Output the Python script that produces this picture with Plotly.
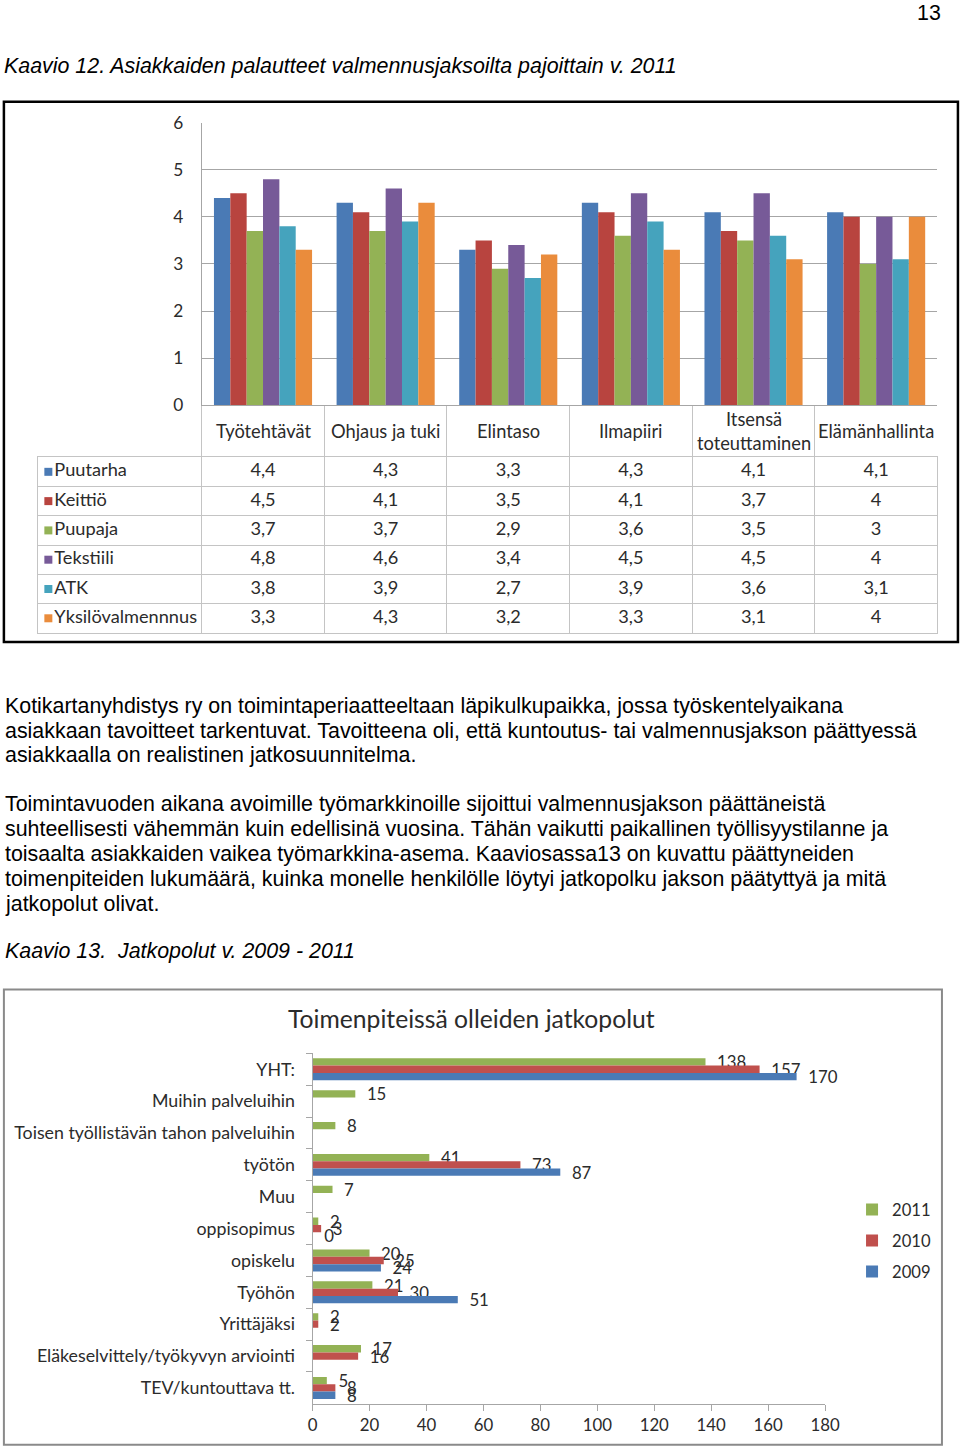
import plotly.graph_objects as go

# the shot of the page comes out a little scaled and shifted, so page
# positions are mapped into figure pixels here
SX, OX = 0.9805, 4.1
SY, OY = 0.987, 10.2
W, H = 976, 1461


def fx(px):
    return ((px - OX) / SX) / W


def fy(py):
    return 1 - ((py - OY) / SY) / H


# --- Kaavio 12 data ---
teemat = ["Työtehtävät", "Ohjaus ja tuki", "Elintaso", "Ilmapiiri",
          "Itsensä toteuttaminen", "Elämänhallinta"]
teema_otsikot = ["Työtehtävät", "Ohjaus ja tuki", "Elintaso", "Ilmapiiri",
                 "Itsensä<br>toteuttaminen", "Elämänhallinta"]
pajat = ["Puutarha", "Keittiö", "Puupaja", "Tekstiili", "ATK", "Yksilövalmennnus"]
puutarha = [4.4, 4.3, 3.3, 4.3, 4.1, 4.1]
keittio = [4.5, 4.1, 3.5, 4.1, 3.7, 4]
puupaja = [3.7, 3.7, 2.9, 3.6, 3.5, 3]
tekstiili = [4.8, 4.6, 3.4, 4.5, 4.5, 4]
atk = [3.8, 3.9, 2.7, 3.9, 3.6, 3.1]
yksilo = [3.3, 4.3, 3.2, 3.3, 3.1, 4]
paja_colors = ["#4a7ab5", "#b8443f", "#93b255", "#775a98", "#45a3bd", "#ea8c3c"]

# --- Kaavio 13 data ---
jatkopolut = ["YHT:", "Muihin palveluihin", "Toisen työllistävän tahon palveluihin",
              "työtön", "Muu", "oppisopimus", "opiskelu", "Työhön", "Yrittäjäksi",
              "Eläkeselvittely/työkyvyn arviointi", "TEV/kuntouttava tt."]
v2011 = [138, 15, 8, 41, 7, 2, 20, 21, 2, 17, 5]
v2010 = [157, None, None, 73, None, 3, 25, 30, 2, 16, 8]
v2009 = [170, None, None, 87, None, 0, 24, 51, None, None, 8]
vuodet = ["2011", "2010", "2009"]
vuosi_colors = ["#93b255", "#c0504d", "#4a7ab5"]

CHART_FONT = "Lato, 'Open Sans', sans-serif"
TEXT_FONT = "'Liberation Sans', Arial, sans-serif"
GRID = "#a6a6a6"
TBL = "#c4c4c4"
INK = "#2b2b2b"

fig = go.Figure()

# column chart
series1 = [puutarha, keittio, puupaja, tekstiili, atk, yksilo]
for name, vals, col in zip(pajat, series1, paja_colors):
    fig.add_trace(go.Bar(x=teemat, y=vals, name=name, marker_color=col,
                         marker_line_width=0, showlegend=False,
                         xaxis="x", yaxis="y"))


# data table under the column chart, drawn on two category subplots
def fmt(v):
    return f"{v:g}".replace(".", ",")


tx, ty, tt = [], [], []
for p, s in zip(pajat, series1):
    for t, v in zip(teemat, s):
        tx.append(t)
        ty.append(p)
        tt.append(fmt(v))

fig.add_trace(go.Scatter(x=tx, y=ty, text=tt, mode="text", showlegend=False,
                         textfont=dict(family=CHART_FONT, size=18.2, color=INK),
                         hoverinfo="skip", xaxis="x3", yaxis="y3"))

# legend keys and row names in the first column
fig.add_trace(go.Scatter(x=[0] * len(pajat), y=pajat, text=pajat,
                         mode="markers+text", textposition="middle right",
                         marker=dict(symbol="square", size=8, color=paja_colors),
                         textfont=dict(family=CHART_FONT, size=18.2, color=INK),
                         showlegend=False, hoverinfo="skip",
                         cliponaxis=False, xaxis="x4", yaxis="y4"))

# horizontal bar chart
offsets = [-0.345, -0.115, 0.115]
for name, vals, col, off in zip(vuodet, [v2011, v2010, v2009], vuosi_colors, offsets):
    fig.add_trace(go.Bar(
        y=jatkopolut, x=vals, name=name, orientation="h", marker_color=col,
        marker_line_width=0, width=0.23, offset=off,
        texttemplate="\u00a0\u00a0%{x}", textposition="outside",
        constraintext="none", cliponaxis=False,
        textfont=dict(family=CHART_FONT, size=16.8, color=INK),
        legendgroup=name, xaxis="x2", yaxis="y2"))

hdr_len = (457 - 405) / SY
n_cols = len(teemat)
n_rows = len(pajat)
tbl_rows = dict(domain=[fy(633), fy(457)], type="category",
                range=[n_rows - 0.5, -0.5])

fig.update_layout(
    width=W, height=H, margin=dict(l=0, r=0, t=0, b=0),
    paper_bgcolor="white", plot_bgcolor="rgba(0,0,0,0)",
    barmode="group", bargap=0.2, bargroupgap=0,
    font=dict(family=CHART_FONT, color=INK),
    xaxis=dict(domain=[fx(201), fx(937.5)], anchor="y", type="category",
               range=[-0.5, n_cols - 0.5],
               showticklabels=False, showgrid=False, showline=True,
               linecolor=GRID, linewidth=1, ticks="outside",
               tickson="boundaries", ticklen=hdr_len, tickcolor=TBL, tickwidth=1),
    yaxis=dict(domain=[fy(405), fy(122)], anchor="x", range=[0, 6], dtick=1,
               showgrid=True, gridcolor=GRID, gridwidth=1, zeroline=False,
               showline=True, linecolor=GRID, ticks="",
               ticklabelstandoff=14,
               tickfont=dict(family=CHART_FONT, size=17.3, color=INK)),
    xaxis3=dict(domain=[fx(201), fx(937.5)], anchor="y3", type="category",
                categoryorder="array", categoryarray=teemat,
                range=[-0.5, n_cols - 0.5],
                showticklabels=False, ticks="", tickson="boundaries",
                showgrid=True, gridcolor=TBL, showline=True, mirror=True,
                linecolor=TBL, zeroline=False),
    yaxis3=dict(anchor="x3", showticklabels=False, ticks="", tickson="boundaries",
                showgrid=True, gridcolor=TBL, showline=True, mirror=True,
                linecolor=TBL, categoryorder="array", categoryarray=pajat,
                **tbl_rows),
    xaxis4=dict(domain=[fx(37), fx(201)], anchor="y4",
                range=[-10.5 / SX, (164 - 10.5) / SX],
                showticklabels=False, ticks="", showgrid=False, zeroline=False,
                showline=True, mirror=True, linecolor=TBL),
    yaxis4=dict(anchor="x4", showticklabels=False, ticks="", tickson="boundaries",
                showgrid=True, gridcolor=TBL, showline=True, linecolor=TBL,
                categoryorder="array", categoryarray=pajat, **tbl_rows),
    xaxis2=dict(domain=[fx(312), fx(825)], anchor="y2", range=[0, 180], dtick=20,
                showgrid=False, zeroline=False, showline=True, linecolor=GRID,
                ticks="outside", ticklen=6, tickcolor=GRID,
                tickfont=dict(family=CHART_FONT, size=16.8, color=INK)),
    yaxis2=dict(domain=[fy(1405), fy(1054)], anchor="x2", type="category",
                range=[10.5, -0.5], showgrid=False, showline=True, linecolor=GRID,
                ticks="outside", tickson="boundaries", ticklen=6, tickcolor=GRID,
                ticklabelstandoff=13,
                tickfont=dict(family=CHART_FONT, size=17.8, color=INK)),
    showlegend=True,
    legend=dict(x=fx(852), y=fy(1193), xanchor="left", yanchor="top",
                tracegroupgap=6.5, bgcolor="rgba(0,0,0,0)",
                font=dict(family=CHART_FONT, size=16.6, color=INK)),
)

# column headers of the data table
for cat, lab in zip(teemat, teema_otsikot):
    fig.add_annotation(x=cat, y=fy(431), xref="x", yref="paper", text=lab,
                       showarrow=False, xanchor="center", yanchor="middle",
                       font=dict(family=CHART_FONT, size=18.3, color=INK))

# frames
fig.add_shape(type="rect", xref="paper", yref="paper", x0=fx(3), x1=fx(958),
              y0=fy(642), y1=fy(101), line=dict(color="black", width=2.5))
fig.add_shape(type="rect", xref="paper", yref="paper", x0=fx(3), x1=fx(942),
              y0=fy(1446), y1=fy(990), line=dict(color="#8a8a8a", width=2))


# page texts
def txt(s, x, y, size=21.4, italic=False, anchor="left", family=TEXT_FONT):
    fig.add_annotation(x=fx(x), y=fy(y), xref="paper", yref="paper", text=s,
                       showarrow=False, xanchor=anchor, yanchor="middle",
                       font=dict(family=family, size=size, color="black",
                                 style="italic" if italic else "normal"))


txt("13", 943, 12, anchor="right")
txt("Kaavio 12. Asiakkaiden palautteet valmennusjaksoilta pajoittain v. 2011", 1, 65, italic=True)

body = [
    ("Kotikartanyhdistys ry on toimintaperiaatteeltaan läpikulkupaikka, jossa työskentelyaikana", 706),
    ("asiakkaan tavoitteet tarkentuvat. Tavoitteena oli, että kuntoutus- tai valmennusjakson päättyessä", 731),
    ("asiakkaalla on realistinen jatkosuunnitelma.", 755),
    ("Toimintavuoden aikana avoimille työmarkkinoille sijoittui valmennusjakson päättäneistä", 804),
    ("suhteellisesti vähemmän kuin edellisinä vuosina. Tähän vaikutti paikallinen työllisyystilanne ja", 829),
    ("toisaalta asiakkaiden vaikea työmarkkina-asema. Kaaviosassa13 on kuvattu päättyneiden", 854),
    ("toimenpiteiden lukumäärä, kuinka monelle henkilölle löytyi jatkopolku jakson päätyttyä ja mitä", 879),
    ("jatkopolut olivat.", 904),
]
for s, y in body:
    txt(s, 2, y)

txt("Kaavio 13.\u00a0 Jatkopolut v. 2009 - 2011", 2, 952, italic=True)

fig.add_annotation(x=fx(471), y=fy(1019), xref="paper", yref="paper",
                   text="Toimenpiteissä olleiden jatkopolut", showarrow=False,
                   xanchor="center", yanchor="middle",
                   font=dict(family=CHART_FONT, size=24.7, color=INK))

# page margin of the browser would push the figure out of the window
fig.write_html("out.html", config={"displayModeBar": False},
               post_script="document.body.style.margin='0';"
                           "document.documentElement.style.overflow='hidden';")
